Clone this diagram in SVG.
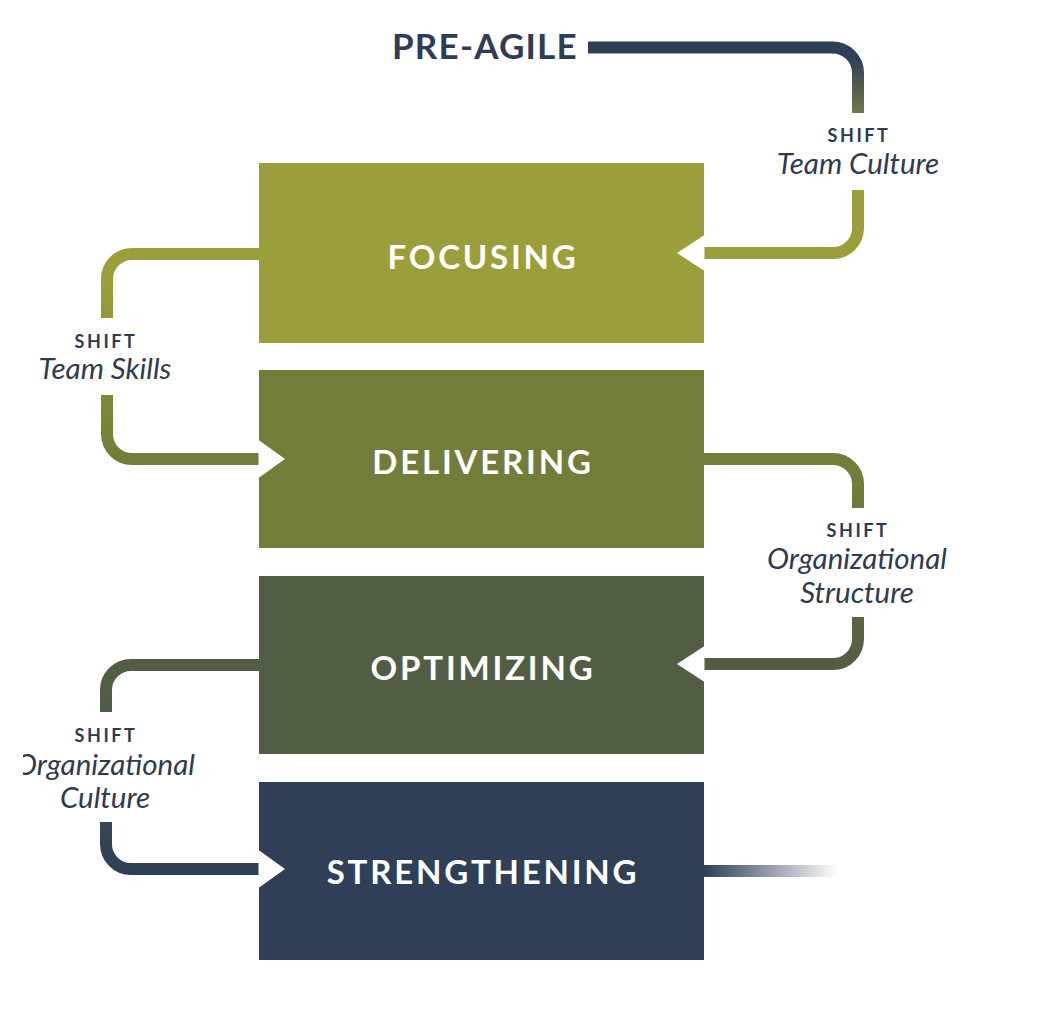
<svg xmlns="http://www.w3.org/2000/svg" width="1052" height="1036" viewBox="0 0 1052 1036">
  <style>
    .stage rect { shape-rendering: geometricPrecision; }
    .stage-label { font-family: Lato, "Open Sans", "Liberation Sans", sans-serif; font-weight: 700; font-size: 33px; letter-spacing: 2.8px; fill: #ffffff; text-anchor: middle; }
    .title { font-family: Lato, "Open Sans", "Liberation Sans", sans-serif; font-weight: 700; font-size: 35px; letter-spacing: 1.2px; fill: #2e3c55; }
    .shift { font-family: Lato, "Open Sans", "Liberation Sans", sans-serif; font-weight: 700; font-size: 18px; letter-spacing: 2.6px; fill: #2e3a52; text-anchor: middle; }
    .shift-name { font-family: Lato, "Open Sans", "Liberation Sans", sans-serif; font-style: italic; font-size: 29.5px; fill: #2e3a52; text-anchor: middle; }
    .conn { fill: none; stroke-width: 12; stroke-linecap: butt; }
    .notch { fill: #ffffff; }
  </style>
  <defs>
    <linearGradient id="gPre" gradientUnits="userSpaceOnUse" x1="0" y1="58" x2="0" y2="150">
      <stop offset="0" stop-color="#2f3f57"/>
      <stop offset="1" stop-color="#9b9f3b"/>
    </linearGradient>
    <linearGradient id="gFoc" gradientUnits="userSpaceOnUse" x1="0" y1="280" x2="0" y2="459">
      <stop offset="0" stop-color="#9b9f3b"/>
      <stop offset="1" stop-color="#737c39"/>
    </linearGradient>
    <linearGradient id="gDel" gradientUnits="userSpaceOnUse" x1="0" y1="484" x2="0" y2="664">
      <stop offset="0" stop-color="#737c39"/>
      <stop offset="1" stop-color="#525e44"/>
    </linearGradient>
    <linearGradient id="gOpt" gradientUnits="userSpaceOnUse" x1="0" y1="690" x2="0" y2="869">
      <stop offset="0" stop-color="#525e44"/>
      <stop offset="1" stop-color="#2f3f57"/>
    </linearGradient>
    <linearGradient id="gFade" gradientUnits="userSpaceOnUse" x1="704" y1="0" x2="838" y2="0">
      <stop offset="0" stop-color="#2f3f57"/>
      <stop offset="0.6" stop-color="#2f3f57" stop-opacity="0.4"/>
      <stop offset="1" stop-color="#2f3f57" stop-opacity="0"/>
    </linearGradient>
    <clipPath id="leftEdge">
      <rect x="23" y="0" width="1029" height="1036"/>
    </clipPath>
  </defs>

  <rect width="1052" height="1036" fill="#ffffff"/>

  <!-- connectors between stages -->
  <g id="connectors">
    <path class="conn" stroke="#2f3f57" d="M588,47.5 H833"/>
    <path class="conn" stroke="url(#gPre)" d="M832,47.5 A25.5,25.5 0 0 1 858,73 V113"/>
    <path class="conn" stroke="#9b9f3b" d="M858,190 V228 A25,25 0 0 1 833,253 H704"/>

    <path class="conn" stroke="url(#gFoc)" d="M259,254 H132 A25,25 0 0 0 107,279 V318"/>
    <path class="conn" stroke="url(#gFoc)" d="M107,395 V434 A25,25 0 0 0 132,459 H259"/>

    <path class="conn" stroke="url(#gDel)" d="M704,459 H833 A25,25 0 0 1 858,484 V508"/>
    <path class="conn" stroke="url(#gDel)" d="M858,617 V639 A25,25 0 0 1 833,664 H704"/>

    <path class="conn" stroke="url(#gOpt)" d="M259,665 H131 A25,25 0 0 0 106,690 V712"/>
    <path class="conn" stroke="url(#gOpt)" d="M106,822 V844 A25,25 0 0 0 131,869 H259"/>

    <path class="conn" stroke="url(#gFade)" d="M704,871 H840"/>
  </g>

  <!-- start label -->
  <g id="pre-agile">
    <text class="title" x="392" y="59">PRE-AGILE</text>
  </g>

  <!-- stage boxes -->
  <g id="focusing" class="stage">
    <rect x="259" y="163" width="445" height="180" fill="#9b9f3b"/>
    <polygon class="notch" points="704.5,235 677,253 704.5,271"/>
    <text class="stage-label" x="483" y="269">FOCUSING</text>
  </g>
  <g id="delivering" class="stage">
    <rect x="259" y="370" width="445" height="178" fill="#737c39"/>
    <polygon class="notch" points="258.5,440 285,459 258.5,478"/>
    <text class="stage-label" x="483" y="474">DELIVERING</text>
  </g>
  <g id="optimizing" class="stage">
    <rect x="259" y="576" width="445" height="178" fill="#525e44"/>
    <polygon class="notch" points="704.5,646 677,664 704.5,682"/>
    <text class="stage-label" x="483" y="680">OPTIMIZING</text>
  </g>
  <g id="strengthening" class="stage">
    <rect x="259" y="782" width="445" height="178" fill="#2f3f57"/>
    <polygon class="notch" points="258.5,850 285,869 258.5,888"/>
    <text class="stage-label" x="483" y="884">STRENGTHENING</text>
  </g>

  <!-- shift labels -->
  <g id="shift-team-culture">
    <text class="shift" x="859" y="142">SHIFT</text>
    <text class="shift-name" x="858" y="174">Team Culture</text>
  </g>
  <g id="shift-team-skills">
    <text class="shift" x="106" y="348">SHIFT</text>
    <text class="shift-name" x="105" y="379">Team Skills</text>
  </g>
  <g id="shift-org-structure">
    <text class="shift" x="858" y="537">SHIFT</text>
    <text class="shift-name" x="857" y="569">Organizational</text>
    <text class="shift-name" x="857" y="603">Structure</text>
  </g>
  <g id="shift-org-culture" clip-path="url(#leftEdge)">
    <text class="shift" x="106" y="742">SHIFT</text>
    <text class="shift-name" x="105" y="775">Organizational</text>
    <text class="shift-name" x="105" y="808">Culture</text>
  </g>
</svg>
